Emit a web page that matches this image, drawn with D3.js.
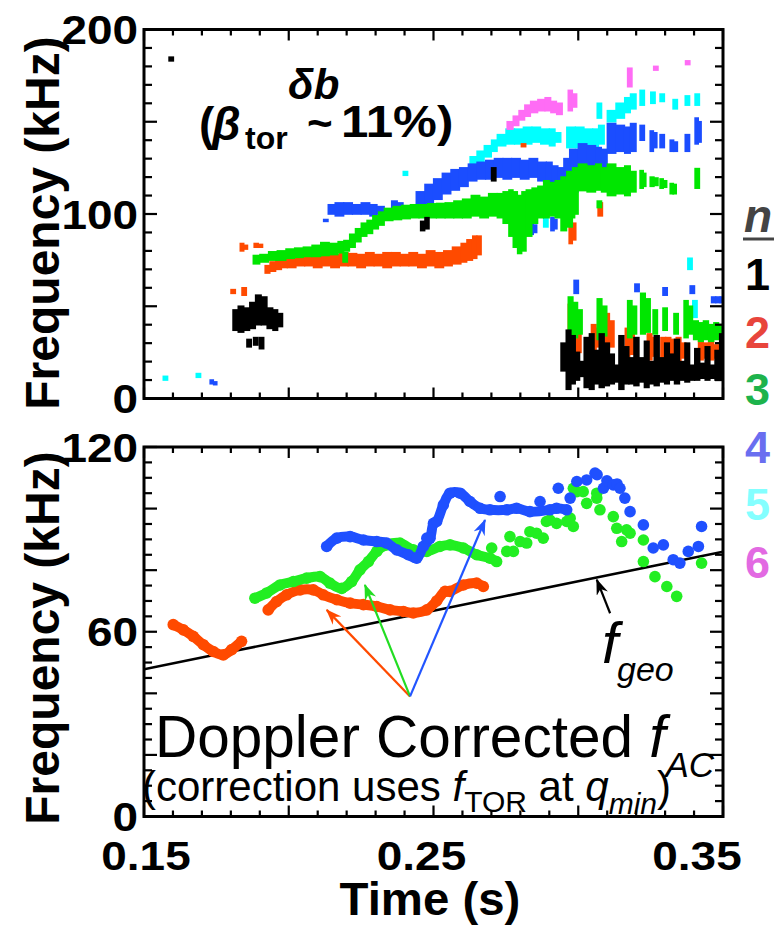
<!DOCTYPE html>
<html><head><meta charset="utf-8">
<script src="https://cdn.jsdelivr.net/npm/d3@7"></script>
<style>body{margin:0;background:#fff}svg{display:block}</style>
</head><body><svg id="c" width="783" height="925"></svg>
<script>
// ---------------- DATA ----------------
const timeDomain = [0.15, 0.35];
const timeTickLabels = [0.15, 0.25, 0.35];
const topFreqDomain = [0, 200];
const topFreqTickLabels = [0, 100, 200];
const botFreqDomain = [0, 120];
const botFreqTickLabels = [0, 60, 120];
const legendModes = ["1", "2", "3", "4", "5", "6"];

// Top panel spectrogram runs: [time (s), fLow (kHz), fHigh (kHz)]
const specN1 = [
  [[0.1807,37,48],[0.1825,36,50],[0.1845,37,49],[0.1865,38,52],[0.1885,40,56],[0.1905,40,55],[0.1925,38,49],[0.1945,37,48],[0.1962,39,46]],
  [[0.1855,28,32]],[[0.1878,29,33]],[[0.1898,27,33]],
  [[0.2455,91,96],[0.2470,92,98]],[[0.2700,118,125]],[[0.1586,183,185]],
  [[0.2940,15,30],[0.2958,5,37],[0.2975,8,34],[0.2990,10,25],[0.3005,12,20],[0.3020,6,33],[0.3038,5,35],[0.3055,8,26],[0.3072,6,35],[0.3090,7,30],[0.3108,8,24],[0.3125,9,18],[0.3140,5,34],[0.3158,8,28],[0.3175,8,22],[0.3192,7,33],[0.3210,9,22],[0.3228,6,31],[0.3245,8,20],[0.3262,7,34],[0.3280,9,22],[0.3298,8,30],[0.3315,10,24],[0.3332,8,32],[0.3350,10,20],[0.3368,9,30],[0.3385,10,18],[0.3402,10,27],[0.3420,11,19],[0.3438,10,28],[0.3455,11,18],[0.3472,10,26],[0.3488,10,35]]
];
const specN2 = [
  [[0.1918,68,72],[0.1935,69,74],[0.1955,70,76],[0.1975,71,77.5],[0.1995,71,78],[0.2025,72,79],[0.2055,72,79],[0.2085,71,78],[0.2115,72,79],[0.2145,71,78],[0.2175,72,79],[0.2205,72,78.5],[0.2235,71,78],[0.2265,72,79],[0.2295,72,78],[0.2325,71,79],[0.2355,72,79],[0.2385,72,78],[0.2415,72,79],[0.2445,71,78],[0.2475,72,80],[0.2505,71,79],[0.2535,72,80],[0.2565,73,82],[0.2595,74,84],[0.2615,75,86],[0.2635,76,88],[0.2650,78,88]],
  [[0.1832,80,84],[0.1845,81,83]],[[0.1880,82,84],[0.1895,82,83.5]],
  [[0.1800,57,59]],[[0.1838,56,60]],
  [[0.2968,84,97],[0.2980,86,95]],[[0.3068,99,106]],[[0.2803,136.5,138]],
  [[0.2965,20,51],[0.2980,22,45],[0.2995,25,38]],[[0.3045,26,40],[0.3062,28,38]],[[0.3092,26,46],[0.3108,28,42]],
  [[0.3162,22,38],[0.3178,24,36]],[[0.3238,21,35],[0.3255,23,33]],
  [[0.3285,22,33],[0.3302,19,33],[0.3320,20,32],[0.3338,19,33],[0.3355,22,30]],
  [[0.3415,21,31],[0.3432,22,30],[0.3450,21,31],[0.3468,22,29],[0.3485,23,28]]
];
const specN3 = [
  [[0.1877,73,77.5],[0.1900,74,78],[0.1930,75,79.5],[0.1960,75,80],[0.1990,76,81],[0.2020,76.5,81.5],[0.2050,77,82],[0.2080,77,83],[0.2110,77.5,84.5],[0.2140,78,84],[0.2170,79,85],[0.2190,80,85.6],[0.2210,82,89],[0.2230,85,92],[0.2250,88,95],[0.2270,89.5,96.5],[0.2290,92,99],[0.2310,94,101],[0.2330,96.5,103],[0.2360,97,104],[0.2390,97.5,104.6],[0.2420,98,105],[0.2450,98,105],[0.2480,98,105.5],[0.2510,98,105.7],[0.2540,98,106],[0.2570,98,107],[0.2600,98,108],[0.2630,99,110],[0.2660,98,109],[0.2690,99,111],[0.2720,98,111],[0.2740,95,112],[0.2760,88,113],[0.2775,82,112],[0.2790,78.6,110],[0.2805,80,112],[0.2820,88,113],[0.2840,95,114],[0.2860,98,115],[0.2880,98,118],[0.2900,99,117],[0.2920,98,118],[0.2940,91,120],[0.2960,93,123],[0.2980,100,125],[0.3000,112.7,127],[0.3030,112,126],[0.3060,113,127],[0.3080,112,125]],
  [[0.3100,110,127],[0.3130,111,125],[0.3160,110,126],[0.3180,112,123]],
  [[0.3213,114,123.5],[0.3222,115,122]],[[0.3248,115,120],[0.3262,115.5,119.5]],
  [[0.3282,114,119],[0.3294,114.5,118]],[[0.3317,111,116.5],[0.3327,111,116]],
  [[0.3403,114,124.6]],[[0.2972,98,111]],[[0.3065,103.5,107]],[[0.2187,74,79]],
  [[0.2965,31,55],[0.2982,33,52],[0.2998,35,48]],[[0.3065,32,54],[0.3082,34,50]],
  [[0.3170,33,53],[0.3186,35,50]],[[0.3215,35,57],[0.3232,36,54]],[[0.3258,35,48]],
  [[0.3292,37,49]],[[0.3330,35,46]],[[0.3365,33,53],[0.3380,35,50]],
  [[0.3398,32,42],[0.3415,31,41],[0.3432,32,42],[0.3450,31,40],[0.3468,32,41],[0.3485,33,40]]
];
const specN4 = [
  [[0.2136,100,105],[0.2160,99,106],[0.2190,100,106],[0.2220,100,105],[0.2250,100,106],[0.2280,99,105],[0.2305,100,104]],
  [[0.2355,103,107],[0.2375,102,106]],
  [[0.2440,103,112],[0.2470,105,116],[0.2500,108,119],[0.2530,111,122],[0.2560,113,124],[0.2590,115,125],[0.2620,118,127],[0.2650,119,128],[0.2680,119,129],[0.2710,120,130],[0.2740,119,130],[0.2770,120,130],[0.2800,119,129],[0.2830,120,130],[0.2860,118,128],[0.2890,116,128],[0.2910,108,126],[0.2930,100,125],[0.2950,105,130],[0.2970,112,135],[0.3000,115,138],[0.3030,118,137],[0.3060,120,136],[0.3080,122,135]],
  [[0.3100,133,149],[0.3130,134,148],[0.3160,133,147],[0.3180,134,149]],
  [[0.3213,140,148]],[[0.3248,134,145],[0.3260,136,144]],[[0.3282,136,143]],
  [[0.3317,134,140],[0.3330,134,139]],[[0.3369,134,143]],[[0.3403,138,152],[0.3413,139,150]],
  [[0.2833,89,95],[0.2845,90,94]],[[0.2905,91,98],[0.2915,92,97]],[[0.2120,96,97]],
  [[0.2985,57,64]],[[0.3195,58,62]],[[0.3292,56,60]],[[0.3386,57,61]],
  [[0.3460,52,55],[0.3475,52,55],[0.3490,52,55]],[[0.1728,8,10],[0.1740,7.5,9]]
];
const specN5 = [
  [[0.2626,126,131],[0.2650,128,134],[0.2675,131,137],[0.2700,134,140],[0.2720,137,143],[0.2750,138,146],[0.2780,138,146],[0.2810,138,147],[0.2840,139,147],[0.2870,138,146],[0.2900,137,146],[0.2920,139,144]],
  [[0.2960,136,147],[0.2990,136,147],[0.3020,137,146],[0.3050,136,146],[0.3070,138,148]],
  [[0.3065,152,160]],
  [[0.3100,150,156],[0.3130,152,160],[0.3160,155,163],[0.3180,157,165]],
  [[0.3213,159,167]],[[0.3250,160,166]],[[0.3282,161,165]],[[0.3327,157,162]],[[0.3369,159,164]],[[0.3403,159,165]],
  [[0.3378,70,76]],[[0.3395,44,53]],[[0.2880,93,100]],[[0.2395,121,123]],
  [[0.1566,10,12]],[[0.1680,11.5,13.5]]
];
const specN6 = [
  [[0.2754,146,150],[0.2775,148,153],[0.2795,151,156],[0.2815,153,159],[0.2835,155,161],[0.2860,156,162],[0.2885,156,163],[0.2905,155,161],[0.2925,154,160]],
  [[0.2965,156,167],[0.2980,158,165]],
  [[0.3170,169,179]],[[0.3260,178,180]],[[0.3370,181,183]]
];

// Bottom panel: Doppler-corrected frequencies [time (s), freq (kHz)]
const dopN2a = [[0.1601,62.3],[0.1636,60.6],[0.1670,58.5],[0.1705,55.8],[0.1739,53.6],[0.1774,52.5],[0.1803,54.2],[0.1837,56.9]];
const dopN2b = [[0.1929,67.1],[0.1958,69.8],[0.1993,72.0],[0.2039,73.6],[0.2085,73.6],[0.2119,72.0],[0.2166,70.4],[0.2212,69.3],[0.2258,68.8],[0.2304,68.2],[0.2350,67.1],[0.2396,66.6],[0.2430,66.1],[0.2477,67.1],[0.2511,70.0],[0.2540,73.1],[0.2557,73.1],[0.2603,75.2],[0.2649,75.8],[0.2672,74.7]];
const dopN3 = [[0.1883,70.9],[0.1924,72.6],[0.1970,75.2],[0.2016,76.3],[0.2062,77.4],[0.2108,77.9],[0.2142,75.8],[0.2183,74.1],[0.2217,76.3],[0.2246,80.1],[0.2275,82.8],[0.2304,86.1],[0.2338,88.2],[0.2384,88.8],[0.2430,86.6],[0.2477,86.1],[0.2522,87.7],[0.2557,88.2],[0.2603,87.2],[0.2649,85.0],[0.2695,83.9],[0.2718,82.8]];
const dopN3Scatter = [[0.2701,87.2],[0.2753,86.1],[0.2764,90.9],[0.2776,86.1],[0.2799,89.3],[0.2822,88.8],[0.2833,92.5],[0.2856,92.0],[0.2879,90.4],[0.2890,95.8],[0.2902,96.3],[0.2925,95.2],[0.2960,95.8],[0.2972,96.9],[0.2983,94.2],[0.2983,106.6],[0.2995,105.5],[0.3017,105.5],[0.3029,101.7],[0.3064,105.0],[0.3064,103.4],[0.3075,99.6],[0.3121,97.4],[0.3133,93.6],[0.3150,89.3],[0.3167,93.1],[0.3179,92.0],[0.3225,89.8],[0.3225,82.8],[0.3265,77.9],[0.3306,74.7],[0.3340,71.5],[0.3426,82.3]];
const dopN4 = [[0.2131,87.7],[0.2166,90.4],[0.2212,90.9],[0.2258,89.8],[0.2304,89.3],[0.2338,88.8],[0.2373,86.6],[0.2413,85.0],[0.2442,83.9],[0.2465,87.7],[0.2488,90.4],[0.2500,95.2],[0.2511,95.8],[0.2534,101.2],[0.2557,105.0],[0.2592,105.0],[0.2626,102.3],[0.2661,100.1],[0.2695,99.6],[0.2753,99.6],[0.2787,100.1],[0.2833,99.0],[0.2902,99.6],[0.2925,100.1],[0.2960,99.6]];
const dopN4Scatter = [[0.2477,90.4],[0.2730,103.9],[0.2868,102.3],[0.2931,106.6],[0.2972,103.4],[0.2995,108.8],[0.3029,109.3],[0.3058,111.5],[0.3065,111.0],[0.3087,106.6],[0.3099,109.0],[0.3121,107.7],[0.3134,108.0],[0.3144,106.6],[0.3161,103.4],[0.3179,99.0],[0.3225,94.7],[0.3259,87.2],[0.3294,88.2],[0.3328,83.4],[0.3351,82.3],[0.3380,86.1],[0.3415,87.7],[0.3426,94.2]];
const fGeo = [[0.150,47.8],[0.175,52.6],[0.200,57.3],[0.225,62.0],[0.250,66.8],[0.275,71.6],[0.300,76.4],[0.325,81.2],[0.350,86.0]];
const arrowOrigin = [0.2419, 39];
const arrowTips = [[0.2131,67.1],[0.2263,75.2],[0.2678,96.3]];
const fGeoArrow = [[0.3110,66],[0.3064,76.9]];

// ---------------- LAYOUT ----------------
const svg = d3.select("#c");
svg.append("rect").attr("width",783).attr("height",925).attr("fill","#fff");
const L = 144, R = 723;
const topP = {t:29.5, b:398.5};
const botP = {t:447, b:816.5};
const xT = d3.scaleLinear().domain(timeDomain).range([L, R]);
const yTop = d3.scaleLinear().domain(topFreqDomain).range([topP.b, topP.t]);
const yBot = d3.scaleLinear().domain(botFreqDomain).range([botP.b, botP.t]);

const modeColor = {"1":"#000000","2":"#ff4a00","3":"#00e600","4":"#1b4dff","5":"#00ffff","6":"#ff6cf5"};
const dotColor = {"2":"#ff4a00","3":"#22ee22","4":"#1f50ff"};
const legendColor = {"1":"#000000","2":"#e8453c","3":"#1db34c","4":"#6a6ef0","5":"#84ffff","6":"#e26ae2"};
const SANS = "'Liberation Sans', Arial, Helvetica, sans-serif";

const defs = svg.append("defs");
[["top",topP],["bot",botP]].forEach(([id,p])=>{
  defs.append("clipPath").attr("id","clip-"+id).append("rect")
    .attr("x",L).attr("y",p.t).attr("width",R-L).attr("height",p.b-p.t);
});

// ---------------- TOP PANEL ----------------
const gTopData = svg.append("g").attr("clip-path","url(#clip-top)");
function drawRuns(runs, color){
  runs.forEach(run=>{
    run.forEach((c,i)=>{
      const next = run[i+1], prev = run[i-1];
      let w = next ? (next[0]-c[0]) : (prev ? Math.min(c[0]-prev[0],0.0025) : 0.0016);
      w = Math.max(0.0012, Math.min(w, 0.0032));
      const xa = xT(c[0]) - 0.6, xb = xT(c[0]+w) + 0.6;
      gTopData.append("rect")
        .attr("x", xa).attr("width", xb-xa)
        .attr("y", yTop(c[2]) - 0.8).attr("height", Math.max(2, yTop(c[1])-yTop(c[2]) + 1.6))
        .attr("fill", color);
    });
  });
}
drawRuns(specN5, modeColor["5"]);
drawRuns(specN6, modeColor["6"]);
drawRuns(specN4, modeColor["4"]);
drawRuns(specN2, modeColor["2"]);
drawRuns(specN3, modeColor["3"]);
drawRuns(specN1, modeColor["1"]);

// ---------------- BOTTOM PANEL ----------------
const gBot = svg.append("g").attr("clip-path","url(#clip-bot)");
const lineB = d3.line().x(d=>xT(d[0])).y(d=>yBot(d[1]));
gBot.append("path").datum(fGeo).attr("d", lineB).attr("fill","none")
  .attr("stroke","#000").attr("stroke-width",2.6);

function beads(data, color, connect){
  if (connect) {
    const smooth = d3.line().x(d=>xT(d[0])).y(d=>yBot(d[1])).curve(d3.curveCatmullRom);
    gBot.append("path").datum(data).attr("d", smooth)
      .attr("fill","none").attr("stroke",color).attr("stroke-width",10)
      .attr("stroke-linecap","round").attr("stroke-linejoin","round");
  }
  gBot.selectAll(null).data(data).enter().append("circle")
    .attr("cx",d=>xT(d[0])).attr("cy",d=>yBot(d[1])).attr("r",5.8).attr("fill",color);
}
beads(dopN2a, dotColor["2"], true);
beads(dopN2b, dotColor["2"], true);
beads(dopN3, dotColor["3"], true);
beads(dopN3Scatter, dotColor["3"], false);
beads(dopN4, dotColor["4"], true);
beads(dopN4Scatter, dotColor["4"], false);

// arrows
function marker(id, color){
  defs.append("marker").attr("id",id).attr("markerUnits","userSpaceOnUse")
    .attr("markerWidth",18).attr("markerHeight",14).attr("refX",15).attr("refY",6)
    .attr("orient","auto").append("path").attr("d","M0,0 L16,6 L0,12 L5,6 Z").attr("fill",color);
}
const arrowCols = ["#ff4a00","#22dd22","#2255ff"];
arrowCols.forEach((c,i)=>marker("ah"+i,c));
marker("ahk","#000");
arrowTips.forEach((tip,i)=>{
  svg.append("line")
    .attr("x1",xT(arrowOrigin[0])).attr("y1",yBot(arrowOrigin[1]))
    .attr("x2",xT(tip[0])).attr("y2",yBot(tip[1]))
    .attr("stroke",arrowCols[i]).attr("stroke-width",2.2)
    .attr("marker-end","url(#ah"+i+")");
});
svg.append("line")
  .attr("x1",xT(fGeoArrow[0][0])).attr("y1",yBot(fGeoArrow[0][1]))
  .attr("x2",xT(fGeoArrow[1][0])).attr("y2",yBot(fGeoArrow[1][1]))
  .attr("stroke","#000").attr("stroke-width",2.2).attr("marker-end","url(#ahk)");

// ---------------- AXES / FRAMES ----------------
function frame(p, yScale, minorStep, majorStep){
  const g = svg.append("g");
  const xMinor = d3.range(0, 21).map(i => timeDomain[0] + i*0.01);
  const yMinor = d3.range(yScale.domain()[0], yScale.domain()[1]+0.001, minorStep);
  const isMajX = v => Math.abs(Math.round(v*100) % 5) === 0;
  const isMajY = v => Math.abs(v % majorStep) < 1e-6;
  xMinor.forEach(v=>{
    const x = xT(v), len = isMajX(v) ? 11 : 6;
    g.append("line").attr("x1",x).attr("x2",x).attr("y1",p.b).attr("y2",p.b-len);
    g.append("line").attr("x1",x).attr("x2",x).attr("y1",p.t).attr("y2",p.t+len);
  });
  yMinor.forEach(v=>{
    const y = yScale(v), len = isMajY(v) ? 13 : 8;
    g.append("line").attr("x1",L).attr("x2",L+len).attr("y1",y).attr("y2",y);
    g.append("line").attr("x1",R).attr("x2",R-len).attr("y1",y).attr("y2",y);
  });
  g.selectAll("line").attr("stroke","#000").attr("stroke-width",2.2);
  g.append("rect").attr("x",L).attr("y",p.t).attr("width",R-L).attr("height",p.b-p.t)
    .attr("fill","none").attr("stroke","#000").attr("stroke-width",3);
}
frame(topP, yTop, 10, 50);
frame(botP, yBot, 5, 20);

function stext(x, y, str, size, opts={}){
  const sx = opts.sx || 1;
  return svg.append("text")
    .attr("transform", `translate(${x},${y}) scale(${sx},1)` + (opts.rot ? ` rotate(${opts.rot})` : ""))
    .attr("font-family", SANS).attr("font-size", size)
    .attr("font-weight", opts.weight || "bold")
    .attr("font-style", opts.style || "normal")
    .attr("text-anchor", opts.anchor || "start")
    .attr("fill", opts.fill || "#000")
    .text(str);
}
topFreqTickLabels.forEach(v => stext(138, yTop(v)+14.5, String(v), 41, {anchor:"end", sx:1.12}));
botFreqTickLabels.forEach(v => stext(138, yBot(v)+14.5, String(v), 41, {anchor:"end", sx:1.12}));
const xLabelShift = {0.15: 2, 0.25: -12, 0.35: -26};
timeTickLabels.forEach(v => stext(xT(v)+xLabelShift[v], 870, v.toFixed(2), 41, {anchor:"middle", sx:1.12}));
stext(430, 915, "Time (s)", 46, {anchor:"middle", sx:1.03});
stext(59, 223, "Frequency (kHz)", 48, {anchor:"middle", rot:-90});
stext(59, 638, "Frequency (kHz)", 48, {anchor:"middle", rot:-90});

// top annotation
stext(288, 99, "δb", 42, {style:"italic"});
stext(199, 140, "(", 46);
stext(212, 140, "β", 46, {style:"italic"});
stext(245, 149, "tor", 32);
stext(307, 138, "~", 44);
stext(341, 137, "11%)", 44, {sx:1.12});

// legend
stext(744, 232, "n", 46, {style:"italic", fill:"#444"});
svg.append("line").attr("x1",743).attr("x2",774).attr("y1",239).attr("y2",239)
  .attr("stroke","#444").attr("stroke-width",3);
legendModes.forEach((m,i)=> stext(745, 290 + i*57.6, m, 45, {fill: legendColor[m]}));

// bottom annotations
const t1 = svg.append("text").attr("x",155).attr("y",757)
  .attr("font-family",SANS).attr("font-size",58.5).attr("fill","#000");
t1.append("tspan").text("Doppler Corrected ");
t1.append("tspan").attr("font-style","italic").text("f");
t1.append("tspan").attr("font-style","italic").attr("font-size",35).attr("dy",20).attr("dx",0).text("AC");

const t2 = svg.append("text").attr("x",142).attr("y",801)
  .attr("font-family",SANS).attr("font-size",42).attr("fill","#000");
t2.append("tspan").text("(correction uses ");
t2.append("tspan").attr("font-style","italic").text("f");
t2.append("tspan").attr("font-size",30).attr("dy",11).text("TOR");
t2.append("tspan").attr("dy",-11).text(" at ");
t2.append("tspan").attr("font-style","italic").text("q");
t2.append("tspan").attr("font-style","italic").attr("font-size",30).attr("dy",13).text("min");
t2.append("tspan").attr("dy",-13).text(")");

const t3 = svg.append("text").attr("x",602).attr("y",663)
  .attr("font-family",SANS).attr("font-size",58).attr("fill","#000").attr("font-style","italic");
t3.append("tspan").text("f");
t3.append("tspan").attr("font-size",34).attr("x",617).attr("y",681).text("geo");
</script></body></html>
